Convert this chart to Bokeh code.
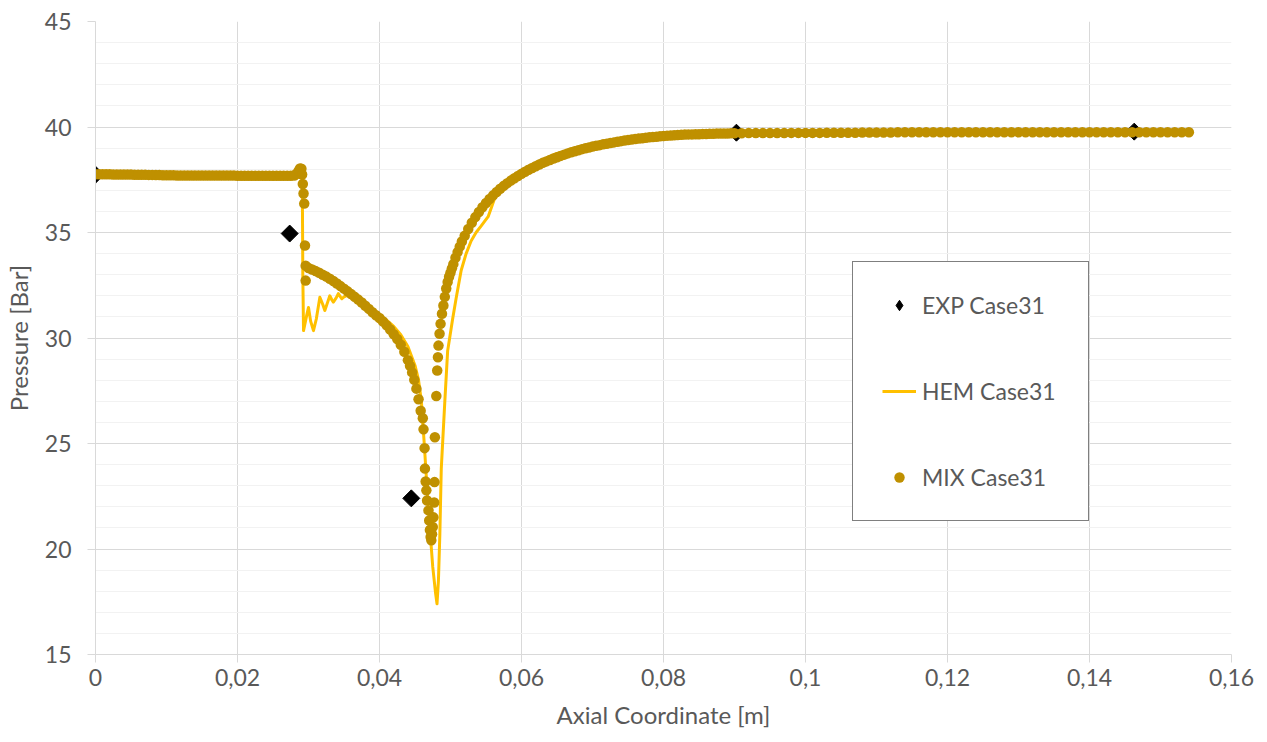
from bokeh.plotting import figure
from bokeh.models import (Range1d, FixedTicker, SingleIntervalTicker, CustomJSTickFormatter,
                          Legend, LegendItem)
from bokeh.embed import file_html
from bokeh.resources import INLINE

# ---------------- data ----------------
x_ticks = [0, 0.02, 0.04, 0.06, 0.08, 0.1, 0.12, 0.14, 0.16]

exp_x = [0.0, 0.02735, 0.04448, 0.09027, 0.1463]
exp_y = [37.74, 34.95, 22.4, 39.73, 39.78]

hem_x = [0, 0.010, 0.020, 0.027, 0.0280, 0.0285, 0.0289, 0.0291, 0.02915, 0.0292,
         0.0293, 0.0297, 0.0300, 0.0303, 0.0307, 0.0311, 0.0316, 0.0320, 0.0323, 0.0327,
         0.0330, 0.0333, 0.0335, 0.0339, 0.0342, 0.0345, 0.0347, 0.0350, 0.0353, 0.0357,
         0.0362, 0.0370, 0.0380, 0.0390, 0.0400, 0.0410, 0.0420, 0.0430, 0.0440, 0.0450,
         0.0455, 0.0459, 0.0463, 0.0468, 0.0475, 0.0479, 0.0481, 0.0483, 0.0485, 0.0487,
         0.0492, 0.0496, 0.0503, 0.0508, 0.0515, 0.0522, 0.0529, 0.0536, 0.0543, 0.0553,
         0.0562, 0.0570, 0.0580, 0.0600, 0.0620, 0.0650, 0.0700, 0.0750, 0.0800, 0.0900,
         0.1000, 0.1200, 0.1543]
hem_y = [37.76, 37.72, 37.70, 37.69, 37.72, 37.85, 38.02, 37.9, 36.0, 33.0,
         30.35, 31.0, 31.45, 30.8, 30.35, 30.9, 31.93, 31.6, 31.3, 31.7,
         32.0, 31.8, 31.7, 31.9, 32.1, 31.95, 31.86, 31.95, 32.0, 32.02,
         31.98, 31.85, 31.62, 31.38, 31.12, 30.85, 30.55, 30.15, 29.6, 28.7,
         28.0, 27.0, 25.0, 22.3, 19.15, 17.9, 17.4, 18.5, 20.7, 23.8,
         27.0, 29.4, 30.9, 31.9, 33.2, 34.0, 34.6, 35.0, 35.3, 35.75,
         36.6, 37.1, 37.45, 37.9, 38.3, 38.75, 39.12, 39.42, 39.6, 39.7,
         39.73, 39.75, 39.75]

# MIX series, read segment by segment
mix_x_inlet = [0.0000, 0.0005, 0.0010, 0.0015, 0.0020, 0.0025, 0.0030, 0.0035, 0.0040, 0.0045,
               0.0050, 0.0055, 0.0060, 0.0065, 0.0070, 0.0075, 0.0080, 0.0085, 0.0090, 0.0095,
               0.0100, 0.0105, 0.0110, 0.0115, 0.0120, 0.0125, 0.0130, 0.0135, 0.0140, 0.0145,
               0.0150, 0.0155, 0.0160, 0.0165, 0.0170, 0.0175, 0.0180, 0.0185, 0.0190, 0.0195,
               0.0200, 0.0205, 0.0210, 0.0215, 0.0220, 0.0225, 0.0230, 0.0235, 0.0240, 0.0245,
               0.0250, 0.0255, 0.0260, 0.0265, 0.0270, 0.0275, 0.0280]
mix_y_inlet = [37.76, 37.76, 37.76, 37.76, 37.76, 37.75, 37.75, 37.75, 37.75, 37.75,
               37.75, 37.74, 37.74, 37.74, 37.74, 37.73, 37.73, 37.72, 37.72, 37.71,
               37.71, 37.71, 37.71, 37.70, 37.70, 37.70, 37.70, 37.70, 37.70, 37.70,
               37.70, 37.70, 37.70, 37.70, 37.70, 37.70, 37.70, 37.70, 37.70, 37.70,
               37.69, 37.69, 37.69, 37.69, 37.69, 37.69, 37.69, 37.69, 37.69, 37.69,
               37.69, 37.69, 37.69, 37.69, 37.69, 37.69, 37.70]

mix_x_step = [0.0283, 0.0286, 0.0288, 0.0290, 0.0291, 0.0292, 0.0293, 0.0294, 0.0295, 0.0296, 0.0296]
mix_y_step = [37.78, 37.92, 38.03, 38.02, 37.75, 37.30, 36.85, 36.37, 34.38, 33.43, 32.72]

mix_x_conv = [0.0300, 0.0305, 0.0310, 0.0315, 0.0320, 0.0325, 0.0330, 0.0335, 0.0340, 0.0345,
              0.0350, 0.0355, 0.0360, 0.0365, 0.0370, 0.0375, 0.0380, 0.0385, 0.0390, 0.0395,
              0.0400, 0.0405, 0.0410, 0.0415, 0.0420, 0.0425, 0.0430, 0.0435, 0.0440, 0.0443,
              0.0446, 0.0449, 0.0452, 0.0455, 0.0458]
mix_y_conv = [33.32, 33.25, 33.17, 33.09, 33.00, 32.91, 32.81, 32.70, 32.58, 32.46,
              32.34, 32.21, 32.08, 31.95, 31.82, 31.68, 31.53, 31.38, 31.22, 31.08,
              30.95, 30.78, 30.60, 30.40, 30.18, 29.95, 29.68, 29.35, 28.95, 28.68,
              28.37, 28.02, 27.60, 27.10, 26.55]

mix_x_throat = [0.0461, 0.0462, 0.04635, 0.0464, 0.0465, 0.0466, 0.0467, 0.0469, 0.0470, 0.0471,
                0.0472, 0.0473, 0.0474, 0.0475, 0.0476, 0.0477, 0.04775, 0.0478, 0.0480, 0.04813,
                0.04823, 0.04831, 0.04846, 0.0486, 0.0488, 0.0490]
mix_y_throat = [26.2, 25.67, 24.78, 23.81, 23.2, 22.78, 22.3, 21.83, 21.35, 20.9,
                20.57, 20.41, 20.7, 21.04, 21.5, 22.2, 23.17, 25.3, 27.25, 28.46,
                29.09, 29.64, 30.2, 30.67, 31.15, 31.54]

mix_x_rec = [0.0492, 0.0494, 0.0496, 0.0498, 0.0500, 0.0502, 0.0504, 0.0507, 0.0510, 0.0513,
             0.0516, 0.0520, 0.0525, 0.0530, 0.0535, 0.0540, 0.0545, 0.0550, 0.0555, 0.0560,
             0.0565, 0.0570, 0.0575, 0.0580, 0.0585, 0.0590, 0.0595, 0.0600]
mix_y_rec = [31.95, 32.35, 32.65, 32.90, 33.10, 33.30, 33.50, 33.80, 34.07, 34.33,
             34.57, 34.85, 35.17, 35.46, 35.73, 35.97, 36.20, 36.40, 36.59, 36.76,
             36.92, 37.07, 37.21, 37.34, 37.46, 37.57, 37.68, 37.78]

mix_x_diff = [0.0605, 0.0610, 0.0615, 0.0620, 0.0625, 0.0630, 0.0635, 0.0640, 0.0645, 0.0650,
              0.0655, 0.0660, 0.0665, 0.0670, 0.0675, 0.0680, 0.0685, 0.0690, 0.0695, 0.0700,
              0.0705, 0.0710, 0.0715, 0.0720, 0.0725, 0.0730, 0.0735, 0.0740, 0.0745, 0.0750,
              0.0755, 0.0760, 0.0765, 0.0770, 0.0775, 0.0780, 0.0785, 0.0790, 0.0795, 0.0800,
              0.0805, 0.0810, 0.0815, 0.0820, 0.0825, 0.0830, 0.0835, 0.0840, 0.0845, 0.0850,
              0.0855, 0.0860, 0.0865, 0.0870, 0.0875, 0.0880, 0.0885, 0.0890, 0.0895, 0.0900]
mix_y_diff = [37.88, 37.97, 38.06, 38.14, 38.22, 38.30, 38.37, 38.44, 38.51, 38.57,
              38.63, 38.69, 38.75, 38.80, 38.85, 38.90, 38.95, 38.99, 39.03, 39.07,
              39.11, 39.14, 39.18, 39.21, 39.24, 39.27, 39.30, 39.33, 39.36, 39.38,
              39.41, 39.43, 39.45, 39.47, 39.49, 39.51, 39.53, 39.54, 39.56, 39.57,
              39.59, 39.60, 39.61, 39.62, 39.63, 39.64, 39.65, 39.65, 39.66, 39.66,
              39.67, 39.67, 39.68, 39.68, 39.69, 39.69, 39.69, 39.69, 39.70, 39.70]

mix_x_out = [0.091, 0.092, 0.093, 0.094, 0.095, 0.096, 0.097, 0.098, 0.099, 0.100,
             0.101, 0.102, 0.103, 0.104, 0.105, 0.106, 0.107, 0.108, 0.109, 0.110,
             0.111, 0.112, 0.113, 0.114, 0.115, 0.116, 0.117, 0.118, 0.119, 0.120,
             0.121, 0.122, 0.123, 0.124, 0.125, 0.126, 0.127, 0.128, 0.129, 0.130,
             0.131, 0.132, 0.133, 0.134, 0.135, 0.136, 0.137, 0.138, 0.139, 0.140,
             0.141, 0.142, 0.143, 0.144, 0.145, 0.146, 0.147, 0.148, 0.149, 0.150,
             0.151, 0.152, 0.153, 0.154]
mix_y_out = [39.70, 39.71, 39.71, 39.71, 39.71, 39.71, 39.71, 39.72, 39.72, 39.72,
             39.72, 39.72, 39.73, 39.73, 39.73, 39.73, 39.73, 39.74, 39.74, 39.74,
             39.74, 39.74, 39.75, 39.75, 39.75, 39.75, 39.75, 39.75, 39.75, 39.75,
             39.75, 39.75, 39.75, 39.75, 39.75, 39.75, 39.75, 39.75, 39.75, 39.75,
             39.75, 39.75, 39.75, 39.75, 39.75, 39.75, 39.75, 39.75, 39.75, 39.75,
             39.75, 39.75, 39.75, 39.75, 39.75, 39.75, 39.75, 39.75, 39.75, 39.75,
             39.75, 39.75, 39.75, 39.75]

mix_x = mix_x_inlet + mix_x_step + mix_x_conv + mix_x_throat + mix_x_rec + mix_x_diff + mix_x_out
mix_y = mix_y_inlet + mix_y_step + mix_y_conv + mix_y_throat + mix_y_rec + mix_y_diff + mix_y_out

# ---------------- style ----------------
FONT = "Lato"
TXT = "#595959"
GRID = "#D9D9D9"
MINOR = "#F2F2F2"
FS = "23px"
FS_TITLE = "24px"

p = figure(width=1262, height=740, output_backend="svg", toolbar_location=None, title=None,
           x_range=Range1d(0, 0.16), y_range=Range1d(15, 45),
           min_border_left=92, min_border_right=31, min_border_top=21, min_border_bottom=86)
p.outline_line_color = None
p.background_fill_color = "white"

xt = FixedTicker(ticks=x_ticks, minor_ticks=[])
yt = SingleIntervalTicker(interval=5, num_minor_ticks=5)
p.xaxis.ticker = xt
p.yaxis.ticker = yt
p.xgrid.ticker = xt
p.ygrid.ticker = yt
p.xaxis.formatter = CustomJSTickFormatter(
    code="if (Math.abs(tick) < 1e-9) { return '0'; } "
         "var s = tick.toFixed(2); if (s.endsWith('0')) { s = s.slice(0, -1); } "
         "return s.replace('.', ',');")

p.xgrid.grid_line_color = GRID
p.ygrid.grid_line_color = GRID
p.ygrid.minor_grid_line_color = MINOR

for ax in (p.xaxis[0], p.yaxis[0]):
    ax.axis_line_color = GRID
    ax.major_tick_line_color = GRID
    ax.major_tick_out = 8
    ax.major_tick_in = 0
    ax.minor_tick_line_color = None
    ax.major_label_text_font = FONT
    ax.major_label_text_font_size = FS
    ax.major_label_text_color = TXT
    ax.axis_label_text_font = FONT
    ax.axis_label_text_font_size = FS_TITLE
    ax.axis_label_text_color = TXT
    ax.axis_label_text_font_style = "normal"

p.xaxis.axis_label = "Axial Coordinate [m]"
p.yaxis.axis_label = "Pressure [Bar]"
p.xaxis.major_label_standoff = 6
p.yaxis.major_label_standoff = 16
p.xaxis.axis_label_standoff = 11
p.yaxis.axis_label_standoff = 9

# legend key for the experimental series: Bokeh draws legend glyphs unrotated,
# so a diamond marker on the same points (hidden under the rotated squares) serves as key
exp_key = p.scatter(exp_x, exp_y, marker="diamond", size=12, fill_color="black", line_color="black")
exp_r = p.scatter(exp_x, exp_y, marker="square", angle=0.7854, size=12,
                  fill_color="black", line_color="black")
hem_r = p.line(hem_x, hem_y, line_color="#FFC000", line_width=3, line_join="round")
mix_r = p.scatter(mix_x, mix_y, marker="circle", size=10.5,
                  fill_color="#BF9000", line_color=None)

legend = Legend(items=[LegendItem(label="EXP Case31", renderers=[exp_key]),
                       LegendItem(label="HEM Case31", renderers=[hem_r]),
                       LegendItem(label="MIX Case31", renderers=[mix_r])],
                location=(757, 133), orientation="vertical",
                label_text_font=FONT, label_text_font_size=FS, label_text_color=TXT,
                border_line_color="black", border_line_width=1,
                background_fill_color="white", background_fill_alpha=1.0,
                padding=29, spacing=58, glyph_height=26, glyph_width=34,
                label_height=26, label_standoff=6, label_width=137, margin=0)
p.add_layout(legend)

open("out.html", "w").write(file_html(p, INLINE))
